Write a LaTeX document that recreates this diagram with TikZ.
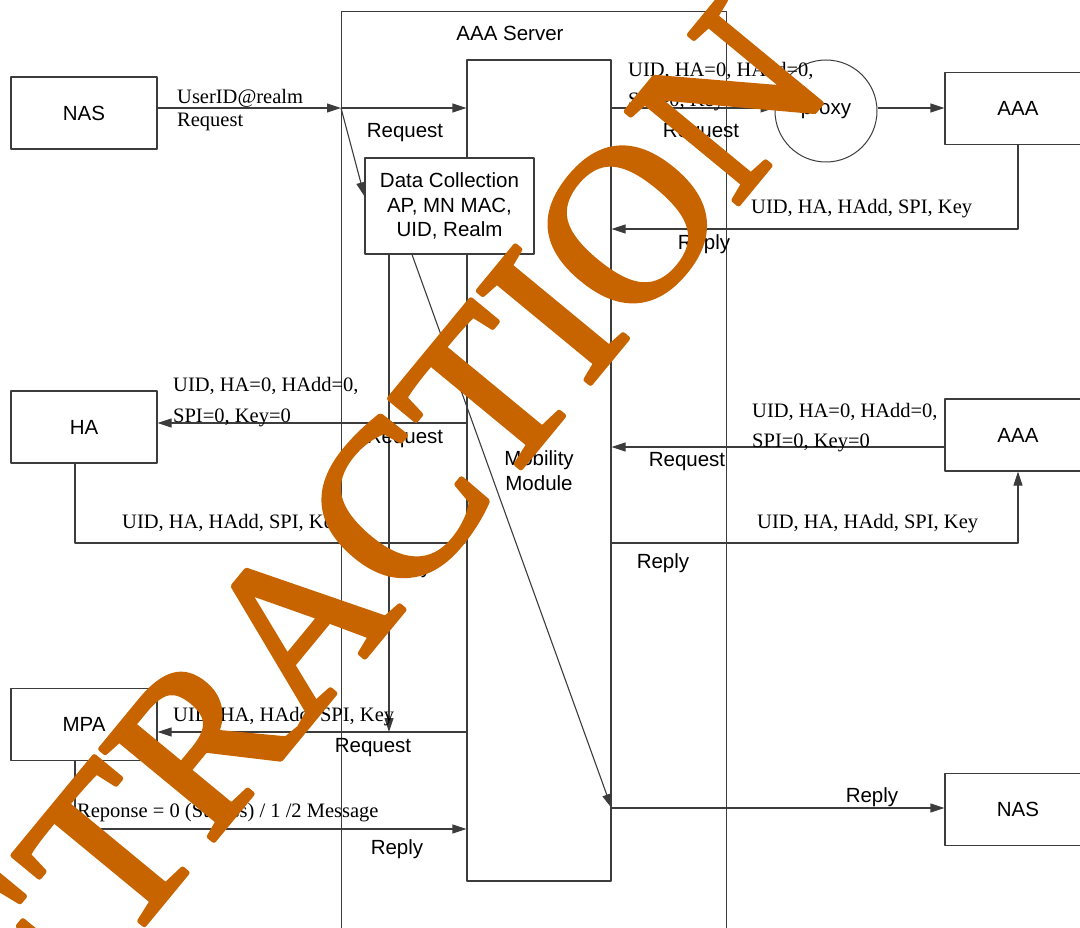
\documentclass[tikz,border=0pt]{standalone}
\usepackage{fontspec}
\setmainfont{Liberation Serif}
\setsansfont{Liberation Sans}
\newfontfamily\wmfont[FakeBold=2.3]{Liberation Serif}
\usepackage{xcolor}
\usepackage{tikz}
\usetikzlibrary{arrows.meta,calc}
\definecolor{linegray}{RGB}{60,60,60}
\definecolor{wmorange}{RGB}{200,100,0}
\newcommand{\lblsf}{\sffamily\fontsize{20.5}{24.5}\selectfont}
\newcommand{\lblrm}{\rmfamily\fontsize{20.5}{24.5}\selectfont}

\begin{document}
\begin{tikzpicture}[x=1pt,y=-1pt,>={Triangle[length=14pt,width=9pt]},line join=round,
  box/.style={draw=linegray,line width=1.1pt,fill=white,minimum width=146pt,minimum height=72pt,inner sep=0pt,font=\lblsf},
  arr/.style={->,draw=linegray,line width=1.1pt},
  rmlbl/.style={anchor=base west,inner sep=0pt,font=\lblrm},
  sflbl/.style={anchor=base,inner sep=0pt,font=\lblsf},
  wm/.style={anchor=base west,inner sep=0pt,text=wmorange,font=\wmfont\fontsize{222}{222}\selectfont}]
  \useasboundingbox (0,0) rectangle (1080,928);
  \clip (0,0) rectangle (1080,928);
  % server and modules
  \node[draw=linegray,line width=1.1pt,anchor=north west,minimum width=385pt,minimum height=960pt,inner sep=0pt] (srv) at (341,11) {};
  \node[sflbl] (srvlbl) at (510,41) {AAA Server};
  \node[draw=linegray,line width=1.1pt,minimum width=144pt,minimum height=821pt,inner sep=0pt,align=center,font=\lblsf] (mm) at (539,470.5) {Mobility\\Module};
  \node[box,minimum width=169pt,minimum height=96pt,align=center] (dc) at (449.5,206) {Data Collection\\AP, MN MAC,\\UID, Realm};
  % outer boxes
  \node[box] (nas1) at (84,113) {NAS};
  \node[box] (ha) at (84,427) {HA};
  \node[box] (mpa) at (84,724.5) {MPA};
  \node[box] (aaa1) at (1018,108.5) {AAA};
  \node[box] (aaa2) at (1018,435) {AAA};
  \node[box] (nas2) at (1018,809.5) {NAS};
  \node[draw=linegray,line width=1pt,circle,minimum size=102pt,inner sep=0pt,font=\lblsf] (proxy) at (826,111) {proxy};
  % line levels
  \coordinate (j1) at (341,108);
  \coordinate (yrep) at (0,229);
  \coordinate (yhq) at (0,423);
  \coordinate (yaq) at (0,447);
  \coordinate (yrr) at (0,543);
  \coordinate (ymq) at (0,732);
  \coordinate (ymr) at (0,829);
  \coordinate (ynas) at (0,808);
  \coordinate (xdn) at (389,0);
  \coordinate (xdg) at (412,0);
  % request from NAS
  \draw[arr] (nas1.east |- j1) -- (j1);
  \draw[arr] (j1) -- (j1 -| mm.west);
  \draw[arr] (j1) -- ($(dc.north west)!0.4!(dc.south west)$);
  % proxy and remote AAA
  \draw[arr] (j1 -| mm.east) -- (proxy.west |- j1);
  \draw[arr] (proxy.east |- j1) -- (aaa1.west |- j1);
  \draw[arr] (aaa1.south) |- (mm.east |- yrep);
  % HA
  \draw[arr] (mm.west |- yhq) -- (ha.east |- yhq);
  \draw[arr] ([xshift=-9pt]ha.south) |- (mm.west |- yrr);
  % local AAA
  \draw[arr] (aaa2.west |- yaq) -- (mm.east |- yaq);
  \draw[arr] (mm.east |- yrr) -| (aaa2.south);
  % MPA
  \draw[arr] (dc.south -| xdn) -- (xdn |- ymq);
  \draw[arr] (mm.west |- ymq) -- (mpa.east |- ymq);
  \draw[arr] ([xshift=-9pt]mpa.south) |- (mm.west |- ymr);
  % reply to NAS
  \draw[arr] (dc.south -| xdg) -- (mm.east |- ynas);
  \draw[arr] (mm.east |- ynas) -- (nas2.west |- ynas);
  % message labels
  \node[rmlbl] (l1a) at (177,104) {UserID@realm};
  \node[rmlbl] (l1b) at (177,127) {Request};
  \node[rmlbl] (l2a) at (628,77) {UID, HA=0, HAdd=0,};
  \node[rmlbl] (l2b) at (628,107) {SPI=0, Key=0};
  \node[rmlbl] (l3) at (751,214) {UID, HA, HAdd, SPI, Key};
  \node[rmlbl] (l4a) at (173,391) {UID, HA=0, HAdd=0,};
  \node[rmlbl] (l4b) at (173,422) {SPI=0, Key=0};
  \node[rmlbl] (l5) at (122,528) {UID, HA, HAdd, SPI, Key};
  \node[rmlbl] (l6a) at (752,417) {UID, HA=0, HAdd=0,};
  \node[rmlbl] (l6b) at (752,447) {SPI=0, Key=0};
  \node[rmlbl] (l7) at (757,528) {UID, HA, HAdd, SPI, Key};
  \node[rmlbl] (l8) at (173,721) {UID, HA, HAdd, SPI, Key};
  \node[rmlbl] (l9) at (77,817) {Reponse = 0 (Sucess) / 1 /2 Message};
  \node[sflbl] (s1) at (405,138) {Request};
  \node[sflbl] (s2) at (701,138) {Request};
  \node[sflbl] (s3) at (704,250) {Reply};
  \node[sflbl] (s4) at (405,443) {Request};
  \node[sflbl] (s5) at (405,573) {Reply};
  \node[sflbl] (s6) at (687,466) {Request};
  \node[sflbl] (s7) at (663,568) {Reply};
  \node[sflbl] (s8) at (373,752) {Request};
  \node[sflbl] (s9) at (397,854) {Reply};
  \node[sflbl] (s10) at (872,802) {Reply};
  % watermark
  \node[wm,rotate=50.5] (wmark) at (-58,1170) {RETRACTION};
\end{tikzpicture}
\end{document}
